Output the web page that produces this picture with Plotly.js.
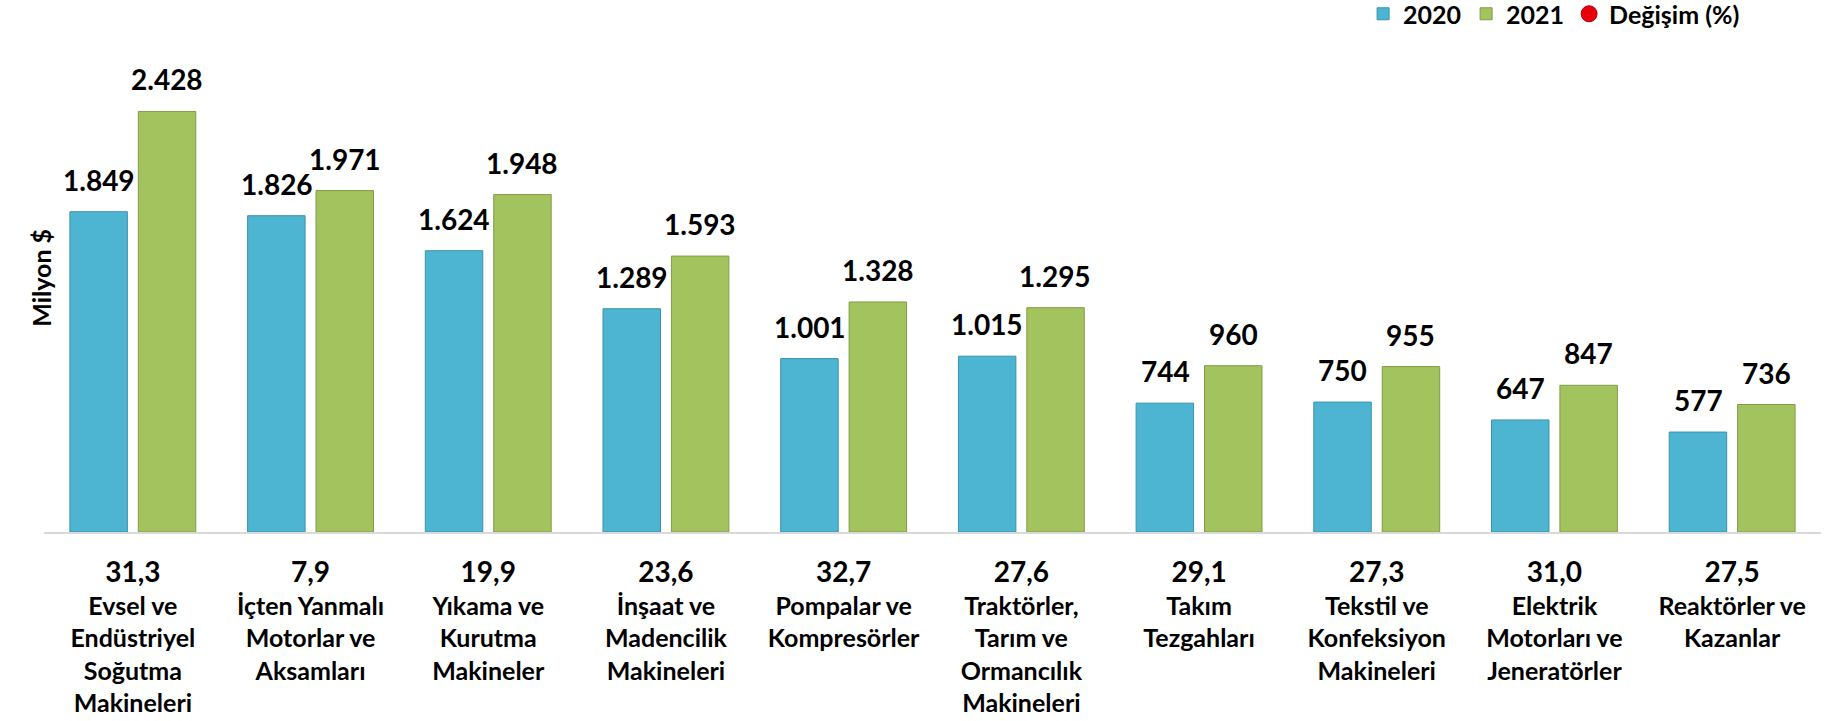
<!DOCTYPE html>
<html>
<head>
<meta charset="utf-8">
<script src="https://cdn.plot.ly/plotly-3.0.1.min.js"></script>
<style>html,body{margin:0;padding:0;background:#fff;}#chart{width:1835px;height:721px;}</style>
</head>
<body>
<div id="chart"></div>
<script>
const categories = [
  "Evsel ve<br>Endüstriyel<br>Soğutma<br>Makineleri",
  "İçten Yanmalı<br>Motorlar ve<br>Aksamları",
  "Yıkama ve<br>Kurutma<br>Makineler",
  "İnşaat ve<br>Madencilik<br>Makineleri",
  "Pompalar ve<br>Kompresörler",
  "Traktörler,<br>Tarım ve<br>Ormancılık<br>Makineleri",
  "Takım<br>Tezgahları",
  "Tekstil ve<br>Konfeksiyon<br>Makineleri",
  "Elektrik<br>Motorları ve<br>Jeneratörler",
  "Reaktörler ve<br>Kazanlar"
];
const values2020 = [1849, 1826, 1624, 1289, 1001, 1015, 744, 750, 647, 577];
const values2021 = [2428, 1971, 1948, 1593, 1328, 1295, 960, 955, 847, 736];
const changePct = [31.3, 7.9, 19.9, 23.6, 32.7, 27.6, 29.1, 27.3, 31.0, 27.5];
const seriesNames = ["2020", "2021", "Değişim (%)"];

const FONT = "Lato, 'Open Sans', sans-serif";
const fmtThousands = v => String(v).replace(/\B(?=(\d{3})+(?!\d))/g, ".");
const fmtPct = v => v.toFixed(1).replace(".", ",");

const tickText = categories.map((c, i) =>
  '<span style="font-size:28px">' + fmtPct(changePct[i]) + '</span><br>' + c);

const traces = [
  {
    type: "bar", name: seriesNames[0], x: categories, y: values2020,
    marker: {color: "#4DB4D2", line: {color: "#3B93AC", width: 1}},
    hoverinfo: "y"
  },
  {
    type: "bar", name: seriesNames[1], x: categories, y: values2021,
    marker: {color: "#A3C35E", line: {color: "#819C47", width: 1}},
    hoverinfo: "y"
  },
  {
    type: "scatter", mode: "markers", name: seriesNames[2], x: categories, y: changePct,
    yaxis: "y2", cliponaxis: true,
    marker: {color: "#E8000B", size: 18, line: {color: "#B00008", width: 1}}
  }
];

// value labels above bars (offset half a bar slot left/right)
const annotations = [];
const slotShift = 34;
categories.forEach((c, i) => {
  annotations.push({x: c, y: values2020[i], xref: "x", yref: "y", xshift: -slotShift, yshift: 13,
    yanchor: "bottom", showarrow: false, text: fmtThousands(values2020[i]),
    font: {family: FONT, size: 28, color: "#000", weight: "bold"}});
  annotations.push({x: c, y: values2021[i], xref: "x", yref: "y", xshift: slotShift, yshift: 13,
    yanchor: "bottom", showarrow: false, text: fmtThousands(values2021[i]),
    font: {family: FONT, size: 28, color: "#000", weight: "bold"}});
});
annotations.push({
  xref: "paper", yref: "paper", x: -0.0113, y: 0.524, textangle: -90, showarrow: false,
  text: "Milyon $", font: {family: FONT, size: 25, color: "#000", weight: "bold"}
});

const layout = {
  width: 1835, height: 721,
  margin: {l: 44, r: 14, t: 47, b: 189, autoexpand: false},
  paper_bgcolor: "#fff", plot_bgcolor: "#fff",
  font: {family: FONT, color: "#000"},
  barmode: "group", bargap: 0.23, bargroupgap: 0.16,
  showlegend: true,
  legend: {
    orientation: "h", xref: "container", yref: "paper",
    x: 0.951, xanchor: "right", y: 1.068, yanchor: "middle",
    font: {family: FONT, size: 25, color: "#000", weight: "bold"},
    itemwidth: 30, tracegroupgap: 0
  },
  xaxis: {
    range: [-0.5, categories.length - 0.5],
    tickvals: categories, ticktext: tickText,
    tickfont: {family: FONT, size: 25, color: "#000", weight: "bold"},
    showline: true, linecolor: "#D9D9D9", linewidth: 2,
    ticks: "outside", ticklen: 18, tickcolor: "rgba(0,0,0,0)",
    showgrid: false, zeroline: false, fixedrange: true
  },
  yaxis: {
    range: [0, 2800], showgrid: false, zeroline: false, showline: false,
    showticklabels: false, ticks: "", fixedrange: true
  },
  yaxis2: {
    overlaying: "y", side: "right", range: [1000, 2000], visible: false, fixedrange: true
  },
  annotations: annotations
};

Plotly.newPlot("chart", traces, layout, {displayModeBar: false, staticPlot: true});
</script>
</body>
</html>
